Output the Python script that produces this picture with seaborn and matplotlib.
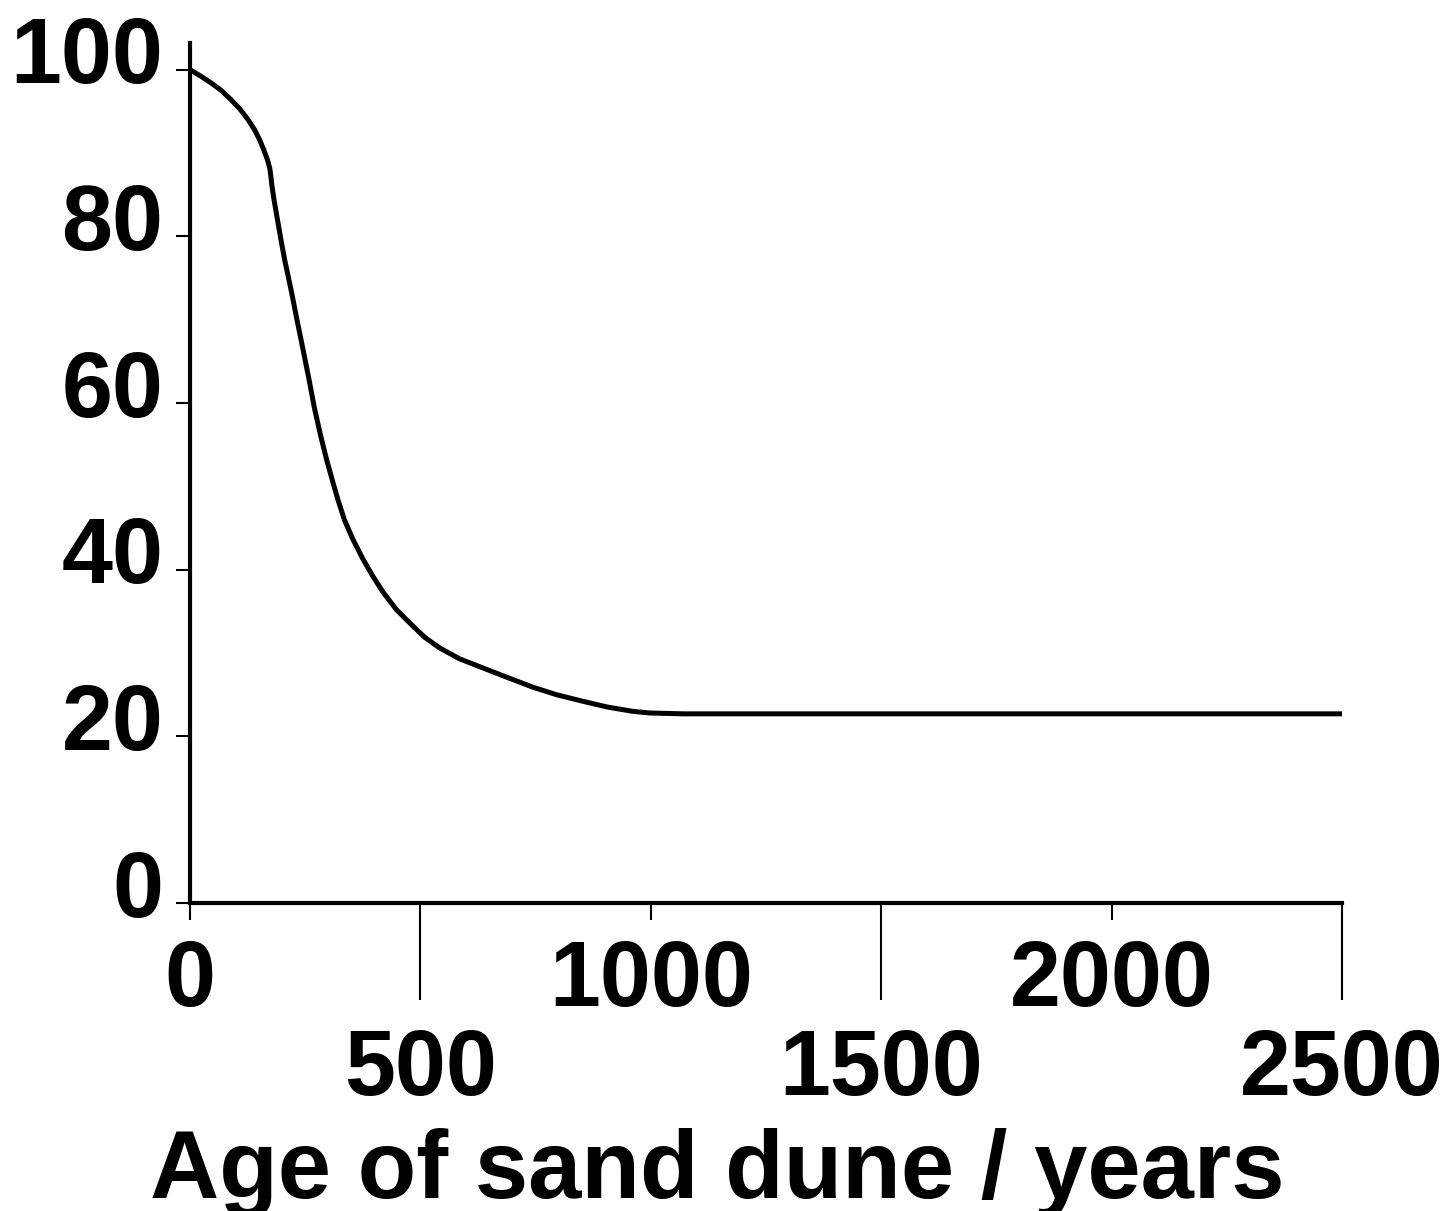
import matplotlib
matplotlib.use("Agg")
import matplotlib.pyplot as plt
import matplotlib.transforms as mtransforms
import pandas as pd
import seaborn as sns

# Values
age_years = [0, 24, 46, 68, 89, 108, 126, 140, 151, 160, 168, 173, 175, 178,
             182, 198, 205, 220, 231, 245, 258, 270, 283, 296, 309, 321, 335,
             353, 375, 397, 419, 448, 477, 509, 542, 585, 636, 687, 744, 795,
             853, 907, 961, 998, 1070, 1215, 2500]
cover_pct = [100, 99.2, 98.4, 97.5, 96.4, 95.3, 94.0, 92.8, 91.6, 90.4, 89.2,
             88.2, 87.4, 86.0, 84.5, 79.4, 77.3, 73.4, 70.3, 66.5, 62.9, 59.4,
             56.2, 53.3, 50.7, 48.4, 46.0, 43.7, 41.3, 39.2, 37.3, 35.2, 33.6,
             31.9, 30.6, 29.3, 28.2, 27.1, 25.9, 25.0, 24.2, 23.5, 23.0, 22.8,
             22.7, 22.7, 22.7]

y_ticks = [0, 20, 40, 60, 80, 100]
x_upper_ticks = [0, 1000, 2000]
x_lower_ticks = [500, 1500, 2500]
x_label = "Age of sand dune / years"

sns.set_style("ticks")
plt.rcParams['font.family'] = ['Liberation Sans', 'DejaVu Sans']
plt.rcParams['font.weight'] = 'bold'

df = pd.DataFrame({"age": age_years, "cover": cover_pct})

fig = plt.figure(figsize=(14.54, 12.11), dpi=100)
ax = fig.add_axes([190 / 1454, 1 - 903 / 1211, 1152 / 1454, 860 / 1211])

sns.lineplot(data=df, x="age", y="cover", ax=ax, color="black",
             linewidth=3.6, solid_capstyle="butt", solid_joinstyle="round")

ax.set_xlim(0, 2500)
ax.set_ylim(0, 103.2)
sns.despine(ax=ax)
for side in ["left", "bottom"]:
    ax.spines[side].set_linewidth(3)
    ax.spines[side].set_color("black")

fs = 66
ax.set_yticks(y_ticks, labels=[str(v) for v in y_ticks])
ax.set_xticks(x_upper_ticks, labels=[str(v) for v in x_upper_ticks])
ax.set_xticks(x_lower_ticks, labels=[str(v) for v in x_lower_ticks], minor=True)

ax.tick_params(axis="y", which="major", direction="out", length=10, width=1.5,
               pad=9, labelsize=fs, colors="black")
ax.tick_params(axis="x", which="major", direction="out", length=12, width=1.5,
               pad=14, labelsize=fs, colors="black")
ax.tick_params(axis="x", which="minor", direction="out", length=70, width=1.5,
               pad=20, labelsize=fs, colors="black")

# y labels sit a little above their ticks in the reference
shift = mtransforms.ScaledTranslation(0, 20 / 100, fig.dpi_scale_trans)
for lab in ax.get_yticklabels():
    lab.set_transform(lab.get_transform() + shift)
    lab.set_fontweight("bold")
for lab in ax.get_xticklabels() + ax.get_xticklabels(minor=True):
    lab.set_fontweight("bold")

ax.set_xlabel(x_label, fontsize=69, fontweight="bold", color="black")
ax.set_ylabel("")
ax.xaxis.label.set_va("baseline")
ax.xaxis.set_label_coords((717 - 190) / 1152, (903 - 1198) / 860)

fig.savefig("out.png", dpi=100, facecolor="white")
